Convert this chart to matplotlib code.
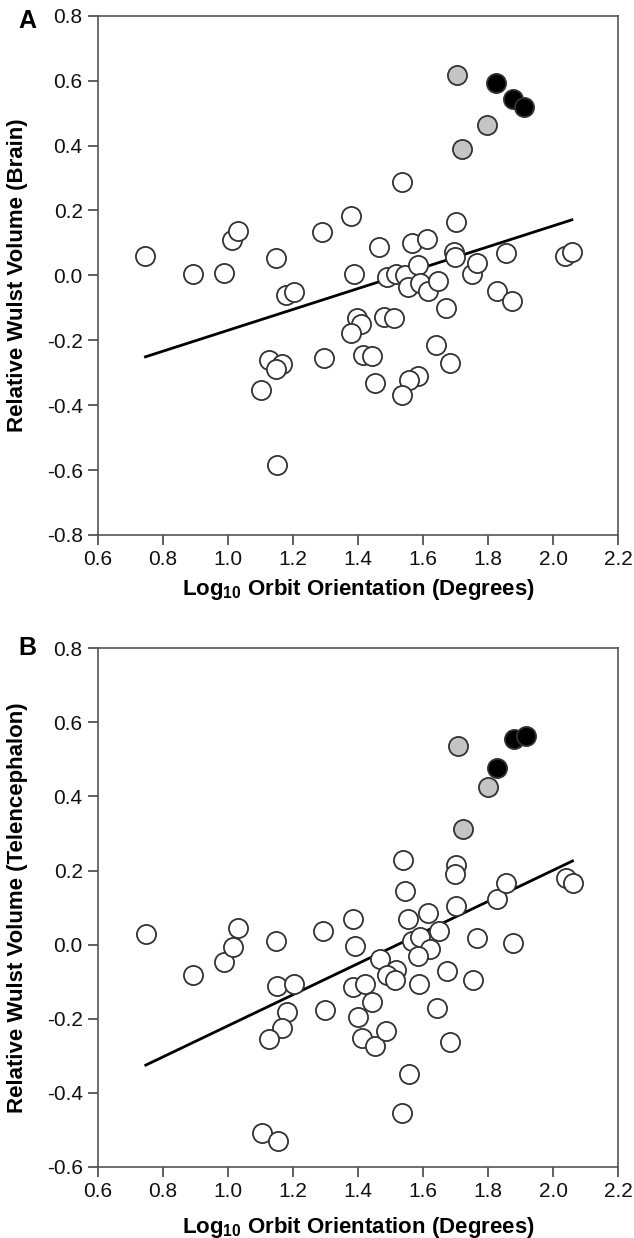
import matplotlib
matplotlib.use("Agg")
import matplotlib.pyplot as plt

plt.rcParams["font.family"] = ["Liberation Sans", "DejaVu Sans"]
plt.rcParams["axes.unicode_minus"] = False
plt.rcParams["mathtext.fontset"] = "custom"
plt.rcParams["mathtext.bf"] = "Liberation Sans:bold"
plt.rcParams["mathtext.rm"] = "Liberation Sans"

# Panel A: relative wulst volume (brain)
a_open_x = [0.746, 0.893, 0.987, 1.012, 1.031, 1.149, 1.178, 1.202, 1.289, 1.380,
            1.388, 1.464, 1.489, 1.518, 1.546, 1.534, 1.565, 1.613, 1.584, 1.555,
            1.592, 1.615, 1.646, 1.671, 1.701, 1.696, 1.699, 1.752, 1.765, 1.855,
            1.827, 1.873, 2.036, 2.058, 1.396, 1.409, 1.380, 1.480, 1.512, 1.639,
            1.414, 1.442, 1.295, 1.127, 1.165, 1.147, 1.682, 1.586, 1.557, 1.451,
            1.534, 1.103, 1.150]
a_open_y = [0.061, 0.005, 0.008, 0.108, 0.138, 0.053, -0.061, -0.052, 0.135, 0.184,
            0.003, 0.086, -0.005, 0.005, 0.001, 0.289, 0.101, 0.111, 0.031, -0.037,
            -0.024, -0.049, -0.016, -0.100, 0.165, 0.071, 0.055, 0.003, 0.039, 0.069,
            -0.047, -0.080, 0.061, 0.072, -0.131, -0.150, -0.177, -0.128, -0.131, -0.214,
            -0.244, -0.247, -0.254, -0.261, -0.272, -0.290, -0.270, -0.309, -0.323, -0.331,
            -0.369, -0.354, -0.585]
a_gray_x = [1.706, 1.797, 1.721]
a_gray_y = [0.617, 0.462, 0.390]
a_black_x = [1.826, 1.877, 1.912]
a_black_y = [0.594, 0.544, 0.519]
a_fit_x = [0.746, 2.058]
a_fit_y = [-0.251, 0.171]

# Panel B: relative wulst volume (telencephalon)
b_open_x = [0.747, 0.893, 0.988, 1.014, 1.031, 1.149, 1.150, 1.202, 1.180, 1.167,
            1.127, 1.105, 1.153, 1.291, 1.299, 1.384, 1.390, 1.386, 1.420, 1.399,
            1.413, 1.443, 1.452, 1.485, 1.467, 1.517, 1.490, 1.515, 1.539, 1.546,
            1.555, 1.567, 1.592, 1.620, 1.584, 1.588, 1.558, 1.536, 1.615, 1.648,
            1.643, 1.674, 1.683, 1.702, 1.697, 1.701, 1.767, 1.755, 1.829, 1.854,
            1.877, 2.039, 2.060]
b_open_y = [0.030, -0.081, -0.047, -0.006, 0.045, 0.010, -0.112, -0.107, -0.181, -0.226,
            -0.255, -0.509, -0.529, 0.038, -0.175, 0.070, -0.004, -0.114, -0.107, -0.195,
            -0.253, -0.155, -0.274, -0.234, -0.038, -0.067, -0.083, -0.096, 0.228, 0.145,
            0.070, 0.010, 0.021, -0.011, -0.031, -0.105, -0.349, -0.455, 0.086, 0.036,
            -0.170, -0.071, -0.262, 0.216, 0.192, 0.105, 0.019, -0.096, 0.124, 0.167,
            0.004, 0.181, 0.167]
b_gray_x = [1.708, 1.799, 1.723]
b_gray_y = [0.536, 0.426, 0.311]
b_black_x = [1.879, 1.917, 1.828]
b_black_y = [0.556, 0.563, 0.478]
b_fit_x = [0.747, 2.060]
b_fit_y = [-0.325, 0.226]

x_ticks = [0.6, 0.8, 1.0, 1.2, 1.4, 1.6, 1.8, 2.0, 2.2]
a_y_ticks = [-0.8, -0.6, -0.4, -0.2, 0.0, 0.2, 0.4, 0.6, 0.8]
b_y_ticks = [-0.6, -0.4, -0.2, 0.0, 0.2, 0.4, 0.6, 0.8]

W, H = 634, 1238
fig = plt.figure(figsize=(W / 100, H / 100), dpi=100)


def panel(rect, letter, letter_y, xlab_y, ylabel, open_x, open_y, gray_x, gray_y,
          black_x, black_y, fit_x, fit_y, yticks):
    ax = fig.add_axes(rect)
    ax.plot(fit_x, fit_y, color="black", lw=2.0, zorder=2)
    kw = dict(s=190, edgecolors="#333333", linewidths=1.3, zorder=3)
    ax.scatter(open_x, open_y, facecolors="white", **kw)
    ax.scatter(gray_x, gray_y, facecolors="#c4c4c4", **kw)
    ax.scatter(black_x, black_y, facecolors="black", **kw)
    ax.set_xlim(0.6, 2.2)
    ax.set_ylim(yticks[0], yticks[-1])
    ax.set_xticks(x_ticks)
    ax.set_yticks(yticks)
    ax.set_xticklabels([f"{v:.1f}" for v in x_ticks])
    ax.set_yticklabels([f"{v:.1f}" for v in yticks])
    ax.tick_params(direction="out", length=7, width=1.2, color="#444444",
                   labelsize=15, pad=4, labelcolor="#111111")
    for s in ax.spines.values():
        s.set_color("#555555")
        s.set_linewidth(1.2)
    ax.set_xlabel(r"Log$_{\mathbf{10}}$ Orbit Orientation (Degrees)",
                  fontsize=16, fontweight="bold", va="top")
    ax.xaxis.set_label_coords(0.5, xlab_y)
    ax.set_ylabel(ylabel, fontsize=16, fontweight="bold")
    ax.yaxis.set_label_coords(-0.134, 0.5)
    ax.text(-0.154, letter_y, letter, transform=ax.transAxes, fontsize=18,
            fontweight="bold", ha="left", va="center")
    return ax


left = 98 / W
width = (618 - 98) / W
panel([left, 1 - 535 / H, width, (535 - 15.7) / H], "A", 0.99, -0.08,
      "Relative Wulst Volume (Brain)",
      a_open_x, a_open_y, a_gray_x, a_gray_y, a_black_x, a_black_y,
      a_fit_x, a_fit_y, a_y_ticks)
panel([left, 1 - 1167 / H, width, (1167 - 648.3) / H], "B", 1.0, -0.093,
      "Relative Wulst Volume (Telencephalon)",
      b_open_x, b_open_y, b_gray_x, b_gray_y, b_black_x, b_black_y,
      b_fit_x, b_fit_y, b_y_ticks)

fig.savefig("out.png", dpi=100)
